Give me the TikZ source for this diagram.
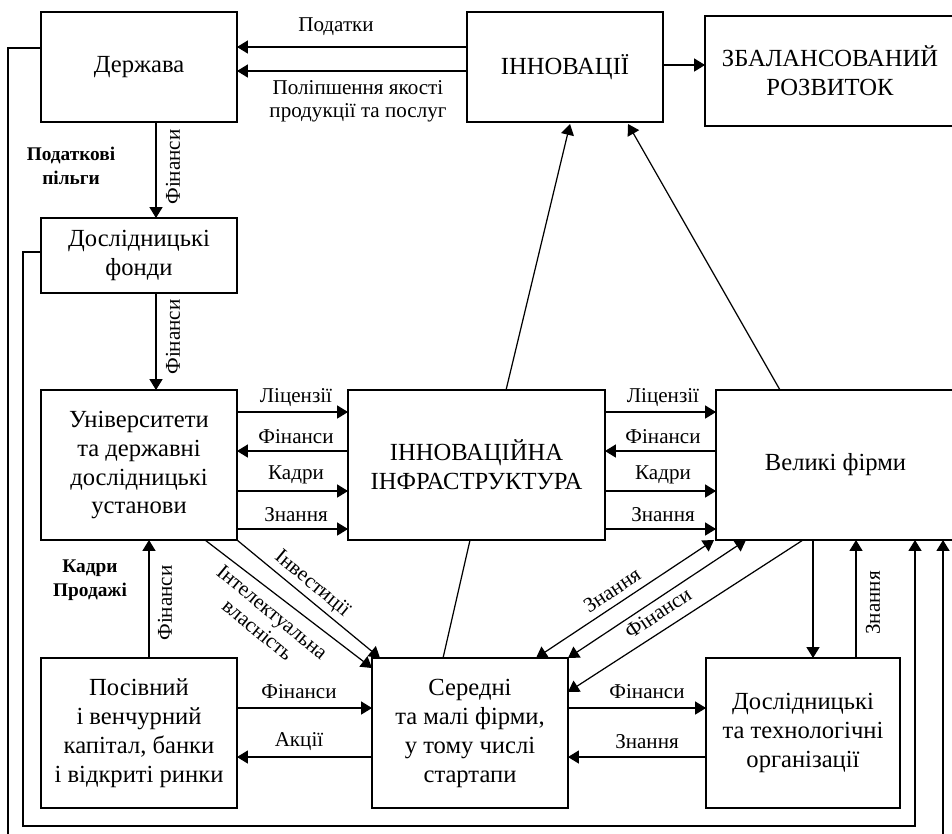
\documentclass[tikz,border=0pt]{standalone}
\usepackage{fontspec}
\setmainfont{Liberation Serif}
\usetikzlibrary{arrows.meta,calc}
\begin{document}
\begin{tikzpicture}[x=0.02cm,y=-0.02cm,
  box/.style={draw,line width=0.7pt,inner sep=0pt,outer sep=0pt,align=center,font=\fontsize{14}{16.5}\selectfont},
  lbl/.style={inner sep=1pt,font=\fontsize{12}{13}\selectfont,align=center},
  blbl/.style={inner sep=1pt,font=\fontsize{11}{13.5}\selectfont\bfseries,align=center},
  con/.style={line width=0.7pt},
  arr/.style={con,-{Triangle[length=6.2pt,width=7.4pt]}},
  darr/.style={con,{Triangle[length=6.2pt,width=7.4pt]}-{Triangle[length=6.2pt,width=7.4pt]}}]
\useasboundingbox (0,0) rectangle (952,833);

% boxes
\node[box,minimum width=3.92cm,minimum height=2.2cm] (der) at (139,67) {Держава};
\node[box,minimum width=3.92cm,minimum height=2.2cm] (inn) at (565,67) {ІННОВАЦІЇ};
\node[box,minimum width=5.0cm,minimum height=2.2cm] (zb) at (830,71) {ЗБАЛАНСОВАНИЙ\\РОЗВИТОК};
\node[box,minimum width=3.92cm,minimum height=1.5cm] (fond) at (139,255.5) {Дослідницькі\\фонди};
\node[box,minimum width=3.92cm,minimum height=3.0cm] (univ) at (139,465) {Університети\\та державні\\дослідницькі\\установи};
\node[box,minimum width=5.14cm,minimum height=3.0cm] (infra) at (476.5,465) {ІННОВАЦІЙНА\\ІНФРАСТРУКТУРА};
\node[box,minimum width=4.78cm,minimum height=3.0cm] (big) at (835.5,465) {Великі фірми};
\node[box,minimum width=3.92cm,minimum height=3.0cm] (seed) at (139,733) {Посівний\\і венчурний\\капітал, банки\\і відкриті ринки};
\node[box,minimum width=3.92cm,minimum height=3.0cm] (sme) at (470,733) {Середні\\та малі фірми,\\у тому числі\\стартапи};
\node[box,minimum width=3.88cm,minimum height=3.0cm] (rto) at (803,733) {Дослідницькі\\та технологічні\\організації};

% top
\draw[arr] (inn.west |- 0,47) -- (der.east |- 0,47);
\draw[arr] (inn.west |- 0,71) -- (der.east |- 0,71);
\node[lbl] (lpod) at (336,27) {Податки};
\node[lbl] (lpol) at (358,101) {Поліпшення якості\\продукції та послуг};
\draw[arr] (inn.east |- 0,65) -- (zb.west |- 0,65);

% left column
\draw[arr] (der.south -| 156,0) -- (fond.north -| 156,0);
\node[lbl,rotate=90] (lf1) at (173,167) {Фінанси};
\node[blbl] (lpp) at (71,166) {Податкові\\пільги};
\draw[arr] (fond.south -| 156,0) -- (univ.north -| 156,0);
\node[lbl,rotate=90] (lf2) at (173,337) {Фінанси};
\draw[arr] (seed.north -| 149,0) -- (univ.south -| 149,0);
\node[lbl,rotate=90] (lf3) at (165,603) {Фінанси};
\node[blbl] (lkp) at (90,580) {Кадри\\Продажі};

% univ <-> infra
\draw[arr] (univ.east |- 0,412) -- (infra.west |- 0,412);
\draw[arr] (infra.west |- 0,451) -- (univ.east |- 0,451);
\draw[arr] (univ.east |- 0,491) -- (infra.west |- 0,491);
\draw[arr] (univ.east |- 0,529) -- (infra.west |- 0,529);
\node[lbl] (a1) at (296,398) {Ліцензії};
\node[lbl] (a2) at (296,437) {Фінанси};
\node[lbl] (a3) at (296,475) {Кадри};
\node[lbl] (a4) at (296,515) {Знання};

% infra <-> big
\draw[arr] (infra.east |- 0,412) -- (big.west |- 0,412);
\draw[arr] (big.west |- 0,451) -- (infra.east |- 0,451);
\draw[arr] (infra.east |- 0,491) -- (big.west |- 0,491);
\draw[arr] (infra.east |- 0,529) -- (big.west |- 0,529);
\node[lbl] (b1) at (663,398) {Ліцензії};
\node[lbl] (b2) at (663,437) {Фінанси};
\node[lbl] (b3) at (663,475) {Кадри};
\node[lbl] (b4) at (663,515) {Знання};

% to innovations
\draw[arr] ($(infra.north west)+(158,0)$) -- ($(inn.south west)+(103,2)$);
\draw[arr] ($(big.north west)+(64,0)$) -- ($(inn.south west)+(161,2)$);

% infra - sme
\draw[con] ($(infra.south west)+(122,0)$) -- ($(sme.north west)+(71,0)$);

% univ -> sme diagonals
\draw[arr] (univ.south east) -- ($(sme.north west)+(8,0)$);
\draw[arr] ($(univ.south east)+(-32,0)$) -- ($(sme.north west)+(0,10)$);
\node[lbl,rotate=-39.5] (linv) at (312,584) {Інвестиції};
\node[lbl,rotate=-39.5] (lip) at (265,621) {Інтелектуальна\\власність};

% sme <-> big diagonals
\draw[darr] ($(sme.north west)+(164,0)$) -- ($(big.south west)+(-2,0)$);
\draw[darr] (sme.north east) -- ($(big.south west)+(30,0)$);
\draw[arr] ($(big.south west)+(87,0)$) -- ($(sme.north east)+(0,34)$);
\node[lbl,rotate=33.5] (lzn) at (612,590) {Знання};
\node[lbl,rotate=33.5] (lfi) at (658,613) {Фінанси};

% seed <-> sme
\draw[arr] (seed.east |- 0,708) -- (sme.west |- 0,708);
\draw[arr] (sme.west |- 0,757) -- (seed.east |- 0,757);
\node[lbl] (c1) at (299,692) {Фінанси};
\node[lbl] (c2) at (299,742) {Акції};

% sme <-> rto
\draw[arr] (sme.east |- 0,708) -- (rto.west |- 0,708);
\draw[arr] (rto.west |- 0,757) -- (sme.east |- 0,757);
\node[lbl] (d1) at (647,692) {Фінанси};
\node[lbl] (d2) at (647,742) {Знання};

% big <-> rto
\draw[arr] (big.south -| 813,0) -- (rto.north -| 813,0);
\draw[arr] (rto.north -| 856,0) -- (big.south -| 856,0);
\node[lbl,rotate=90] (lzr) at (873,603) {Знання};

% feedback loops
\draw[arr] (fond.west |- 0,252) -- (23,252) -- (23,826) -- (915,826) -- (big.south -| 915,0);
\draw[arr] (der.west |- 0,48) -- (8,48) -- (8,845) -- (943,845) -- (big.south -| 943,0);
\end{tikzpicture}
\end{document}
